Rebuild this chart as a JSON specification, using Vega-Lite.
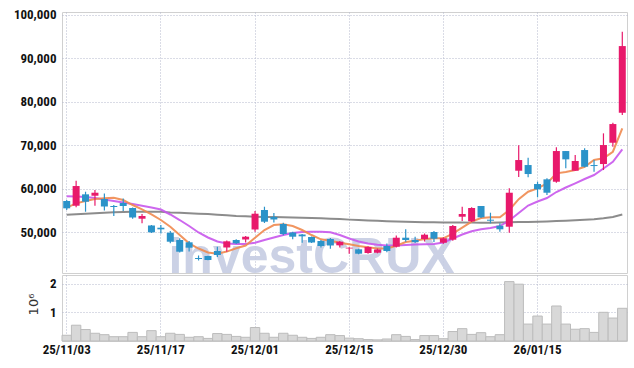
{
  "$schema": "https://vega.github.io/schema/vega-lite/v6.json",
  "padding": {"left": 0, "top": 8, "right": 8, "bottom": 0},
  "background": "white",
  "config": {
    "view": {"stroke": "#d0d0d0", "strokeWidth": 1},
    "concat": {"spacing": 0},
    "axis": {
      "labelFont": "Roboto Condensed",
      "labelFontWeight": "bold",
      "labelFontSize": 13,
      "labelColor": "#111111",
      "gridColor": "#b4b8cc",
      "gridDash": [1, 2],
      "gridWidth": 1,
      "domain": false,
      "ticks": false
    }
  },
  "datasets": {
    "ohlc": [
      {"d": "25/11/03", "o": 57130, "h": 57360, "l": 55060, "c": 55450, "v": 200000, "m5": 55600, "m10": 58210, "m60": 53980},
      {"d": "25/11/04", "o": 56050, "h": 61800, "l": 55680, "c": 60580, "v": 550000, "m5": 56600, "m10": 58170, "m60": 54070},
      {"d": "25/11/05", "o": 58670, "h": 59270, "l": 54670, "c": 56970, "v": 400000, "m5": 57130, "m10": 58050, "m60": 54190},
      {"d": "25/11/06", "o": 58350, "h": 59660, "l": 56050, "c": 59040, "v": 270000, "m5": 57590, "m10": 57820, "m60": 54300},
      {"d": "25/11/07", "o": 57590, "h": 58860, "l": 54950, "c": 55870, "v": 220000, "m5": 57750, "m10": 57480, "m60": 54420},
      {"d": "25/11/10", "o": 55980, "h": 56210, "l": 53680, "c": 55750, "v": 150000, "m5": 57900, "m10": 57130, "m60": 54530},
      {"d": "25/11/11", "o": 56670, "h": 57710, "l": 54830, "c": 55980, "v": 150000, "m5": 57360, "m10": 56790, "m60": 54600},
      {"d": "25/11/12", "o": 55520, "h": 55640, "l": 53060, "c": 53340, "v": 300000, "m5": 56210, "m10": 56440, "m60": 54650},
      {"d": "25/11/13", "o": 53060, "h": 54140, "l": 52000, "c": 53680, "v": 150000, "m5": 55220, "m10": 56050, "m60": 54670},
      {"d": "25/11/14", "o": 51500, "h": 51610, "l": 49770, "c": 49930, "v": 360000, "m5": 54070, "m10": 55640, "m60": 54670},
      {"d": "25/11/17", "o": 50990, "h": 51610, "l": 49660, "c": 50620, "v": 150000, "m5": 52760, "m10": 55180, "m60": 54650},
      {"d": "25/11/18", "o": 49840, "h": 50230, "l": 47400, "c": 47770, "v": 270000, "m5": 51220, "m10": 54030, "m60": 54490},
      {"d": "25/11/19", "o": 48160, "h": 48550, "l": 45280, "c": 45470, "v": 230000, "m5": 49310, "m10": 52760, "m60": 54420},
      {"d": "25/11/20", "o": 47630, "h": 47930, "l": 45520, "c": 46390, "v": 130000, "m5": 47400, "m10": 51380, "m60": 54320},
      {"d": "25/11/21", "o": 44020, "h": 44600, "l": 43450, "c": 43790, "v": 150000, "m5": 46200, "m10": 49890, "m60": 54230},
      {"d": "25/11/24", "o": 44480, "h": 44550, "l": 43490, "c": 43560, "v": 90000, "m5": 45300, "m10": 48740, "m60": 54120},
      {"d": "25/11/25", "o": 45630, "h": 46620, "l": 44250, "c": 44710, "v": 260000, "m5": 45000, "m10": 47820, "m60": 54000},
      {"d": "25/11/26", "o": 46440, "h": 48050, "l": 45470, "c": 47860, "v": 230000, "m5": 45500, "m10": 47360, "m60": 53840},
      {"d": "25/11/27", "o": 48160, "h": 48320, "l": 47240, "c": 47400, "v": 160000, "m5": 46250, "m10": 47240, "m60": 53680},
      {"d": "25/11/28", "o": 48280, "h": 49080, "l": 47590, "c": 48920, "v": 130000, "m5": 46900, "m10": 47240, "m60": 53610},
      {"d": "25/12/01", "o": 50580, "h": 54830, "l": 50070, "c": 54210, "v": 470000, "m5": 48690, "m10": 47540, "m60": 53540},
      {"d": "25/12/02", "o": 55060, "h": 55820, "l": 52070, "c": 52370, "v": 270000, "m5": 50460, "m10": 48160, "m60": 53470},
      {"d": "25/12/03", "o": 53450, "h": 54370, "l": 52190, "c": 52880, "v": 130000, "m5": 51610, "m10": 48740, "m60": 53430},
      {"d": "25/12/04", "o": 51840, "h": 52140, "l": 49240, "c": 49540, "v": 270000, "m5": 51770, "m10": 49310, "m60": 53380},
      {"d": "25/12/05", "o": 49890, "h": 50070, "l": 48320, "c": 48920, "v": 200000, "m5": 51380, "m10": 49770, "m60": 53330},
      {"d": "25/12/08", "o": 49430, "h": 49540, "l": 47540, "c": 49010, "v": 130000, "m5": 50460, "m10": 50000, "m60": 53290},
      {"d": "25/12/09", "o": 48850, "h": 48970, "l": 47470, "c": 47590, "v": 90000, "m5": 49310, "m10": 50070, "m60": 53220},
      {"d": "25/12/10", "o": 47930, "h": 48160, "l": 46440, "c": 46780, "v": 130000, "m5": 48320, "m10": 50070, "m60": 53150},
      {"d": "25/12/11", "o": 48390, "h": 48620, "l": 46160, "c": 46900, "v": 220000, "m5": 48000, "m10": 49930, "m60": 53060},
      {"d": "25/12/12", "o": 46940, "h": 47930, "l": 46440, "c": 47770, "v": 190000, "m5": 47540, "m10": 49310, "m60": 52970},
      {"d": "25/12/15", "o": 46210, "h": 46480, "l": 45010, "c": 46390, "v": 100000, "m5": 47170, "m10": 48510, "m60": 52850},
      {"d": "25/12/16", "o": 46020, "h": 46160, "l": 44870, "c": 45010, "v": 80000, "m5": 46780, "m10": 47820, "m60": 52760},
      {"d": "25/12/17", "o": 45170, "h": 46710, "l": 45010, "c": 46550, "v": 50000, "m5": 46480, "m10": 47360, "m60": 52670},
      {"d": "25/12/18", "o": 45240, "h": 46210, "l": 45100, "c": 45970, "v": 40000, "m5": 46200, "m10": 47080, "m60": 52580},
      {"d": "25/12/19", "o": 46780, "h": 47360, "l": 45330, "c": 45630, "v": 70000, "m5": 46200, "m10": 46900, "m60": 52480},
      {"d": "25/12/22", "o": 46620, "h": 49200, "l": 46440, "c": 48690, "v": 220000, "m5": 46850, "m10": 46900, "m60": 52420},
      {"d": "25/12/23", "o": 48690, "h": 50620, "l": 47770, "c": 48160, "v": 160000, "m5": 47700, "m10": 47010, "m60": 52350},
      {"d": "25/12/24", "o": 48160, "h": 48920, "l": 47470, "c": 47700, "v": 50000, "m5": 48000, "m10": 47130, "m60": 52300},
      {"d": "25/12/26", "o": 48390, "h": 49660, "l": 47820, "c": 49380, "v": 190000, "m5": 48390, "m10": 47170, "m60": 52250},
      {"d": "25/12/29", "o": 50000, "h": 50230, "l": 47700, "c": 48460, "v": 190000, "m5": 48550, "m10": 47240, "m60": 52230},
      {"d": "25/12/30", "o": 47540, "h": 48780, "l": 47310, "c": 48550, "v": 80000, "m5": 48550, "m10": 47590, "m60": 52210},
      {"d": "26/01/02", "o": 48230, "h": 51610, "l": 48000, "c": 51380, "v": 330000, "m5": 49620, "m10": 48510, "m60": 52190},
      {"d": "26/01/05", "o": 53520, "h": 55820, "l": 52530, "c": 54140, "v": 430000, "m5": 51000, "m10": 49430, "m60": 52190},
      {"d": "26/01/06", "o": 52460, "h": 55690, "l": 52300, "c": 55520, "v": 230000, "m5": 52400, "m10": 50160, "m60": 52160},
      {"d": "26/01/07", "o": 55980, "h": 55980, "l": 53220, "c": 53380, "v": 290000, "m5": 53200, "m10": 50620, "m60": 52160},
      {"d": "26/01/08", "o": 52830, "h": 54440, "l": 52000, "c": 52600, "v": 150000, "m5": 53380, "m10": 50920, "m60": 52160},
      {"d": "26/01/09", "o": 51450, "h": 52000, "l": 50070, "c": 50620, "v": 220000, "m5": 53400, "m10": 51380, "m60": 52190},
      {"d": "26/01/12", "o": 51220, "h": 60050, "l": 49840, "c": 59040, "v": 2070000, "m5": 55060, "m10": 52650, "m60": 52230},
      {"d": "26/01/13", "o": 64100, "h": 69940, "l": 62650, "c": 66560, "v": 1980000, "m5": 57550, "m10": 54370, "m60": 52280},
      {"d": "26/01/14", "o": 65410, "h": 67090, "l": 62580, "c": 63340, "v": 590000, "m5": 59270, "m10": 56100, "m60": 52320},
      {"d": "26/01/15", "o": 61040, "h": 61570, "l": 57980, "c": 59820, "v": 870000, "m5": 60050, "m10": 57020, "m60": 52370},
      {"d": "26/01/16", "o": 62120, "h": 62350, "l": 58510, "c": 59040, "v": 590000, "m5": 61200, "m10": 57820, "m60": 52440},
      {"d": "26/01/19", "o": 61570, "h": 69480, "l": 61340, "c": 68630, "v": 1220000, "m5": 63500, "m10": 59200, "m60": 52530},
      {"d": "26/01/20", "o": 68630, "h": 68630, "l": 64650, "c": 66720, "v": 590000, "m5": 63800, "m10": 60240, "m60": 52600},
      {"d": "26/01/21", "o": 64100, "h": 67710, "l": 64100, "c": 66330, "v": 410000, "m5": 64260, "m10": 61200, "m60": 52690},
      {"d": "26/01/22", "o": 68860, "h": 69250, "l": 64880, "c": 65020, "v": 430000, "m5": 65020, "m10": 62190, "m60": 52810},
      {"d": "26/01/23", "o": 65410, "h": 66560, "l": 63870, "c": 65180, "v": 300000, "m5": 66560, "m10": 63110, "m60": 52940},
      {"d": "26/01/26", "o": 65640, "h": 72700, "l": 64260, "c": 70010, "v": 1000000, "m5": 66950, "m10": 64610, "m60": 53150},
      {"d": "26/01/27", "o": 70540, "h": 75140, "l": 69620, "c": 74840, "v": 800000, "m5": 68470, "m10": 66170, "m60": 53450},
      {"d": "26/01/28", "o": 77440, "h": 96070, "l": 76910, "c": 92780, "v": 1140000, "m5": 73850, "m10": 69020, "m60": 54020}
    ],
    "wm": [
      {"d": "25/12/09", "p": 40650, "t": "investCRUX"}
    ]
  },
  "vconcat": [
    {
      "width": 565,
      "height": 261,
      "encoding": {
        "x": {
          "field": "d",
          "type": "ordinal",
          "scale": {"type": "band", "paddingInner": 0, "paddingOuter": 0},
          "axis": {
            "values": ["25/11/03", "25/11/17", "25/12/01", "25/12/15", "25/12/30", "26/01/15"],
            "labels": false,
            "grid": true,
            "bandPosition": 0.5,
            "title": null
          }
        }
      },
      "layer": [
        {
          "data": {"name": "wm"},
          "mark": {"type": "text", "font": "Liberation Sans", "fontWeight": "bold", "fontSize": 50, "color": "#c6cde3", "opacity": 0.9, "align": "center", "baseline": "alphabetic", "clip": true},
          "encoding": {
            "y": {
              "field": "p",
              "type": "quantitative",
              "scale": {"domain": [40570, 100620], "zero": false, "nice": false},
              "axis": {
                "values": [50000, 60000, 70000, 80000, 90000, 100000],
                "labelExpr": "format(datum.value, ',')",
                "labelPadding": 6,
                "minExtent": 61,
                "maxExtent": 61,
                "grid": true
              },
              "title": null
            },
            "text": {"field": "t"}
          }
        },
        {
          "data": {"name": "ohlc"},
          "mark": {"type": "line", "color": "#808080", "strokeWidth": 2, "opacity": 0.9},
          "encoding": {"y": {"field": "m60", "type": "quantitative", "title": null}}
        },
        {
          "data": {"name": "ohlc"},
          "mark": {"type": "line", "color": "#c857ec", "strokeWidth": 2, "opacity": 0.9},
          "encoding": {"y": {"field": "m10", "type": "quantitative", "title": null}}
        },
        {
          "data": {"name": "ohlc"},
          "mark": {"type": "line", "color": "#f0894f", "strokeWidth": 2, "opacity": 0.9},
          "encoding": {"y": {"field": "m5", "type": "quantitative", "title": null}}
        },
        {
          "data": {"name": "ohlc"},
          "mark": {"type": "rule", "strokeWidth": 1.2},
          "encoding": {
            "y": {"field": "l", "type": "quantitative", "title": null},
            "y2": {"field": "h"},
            "color": {"condition": {"test": "datum.c >= datum.o", "value": "#e8196b"}, "value": "#2b93c9"}
          }
        },
        {
          "data": {"name": "ohlc"},
          "mark": {"type": "bar", "size": 7},
          "encoding": {
            "y": {"field": "o", "type": "quantitative", "title": null},
            "y2": {"field": "c"},
            "color": {"condition": {"test": "datum.c >= datum.o", "value": "#e8196b"}, "value": "#2b93c9"}
          }
        }
      ]
    },
    {
      "width": 565,
      "height": 66,
      "data": {"name": "ohlc"},
      "mark": {"type": "bar", "color": "#d8d8d8", "stroke": "#bcbcbc", "strokeWidth": 1},
      "encoding": {
        "x": {
          "field": "d",
          "type": "ordinal",
          "scale": {"type": "band", "paddingInner": 0, "paddingOuter": 0},
          "axis": {
            "values": ["25/11/03", "25/11/17", "25/12/01", "25/12/15", "25/12/30", "26/01/15"],
            "labelAngle": 0,
            "labelPadding": 2,
            "grid": true,
            "bandPosition": 0.5,
            "title": null
          }
        },
        "y": {
          "field": "v",
          "type": "quantitative",
          "scale": {"domain": [0, 2300000], "nice": false},
          "axis": {
            "values": [1000000, 2000000],
            "labelExpr": "datum.value / 1000000",
            "labelPadding": 6,
            "minExtent": 61,
            "maxExtent": 61,
            "grid": true,
            "title": "10⁶",
            "titleFont": "DejaVu Sans",
            "titleFontWeight": "normal",
            "titleFontSize": 13,
            "titleColor": "#333",
            "titleBaseline": "middle",
            "titleX": -29,
            "titleY": 29
          }
        }
      }
    }
  ]
}
